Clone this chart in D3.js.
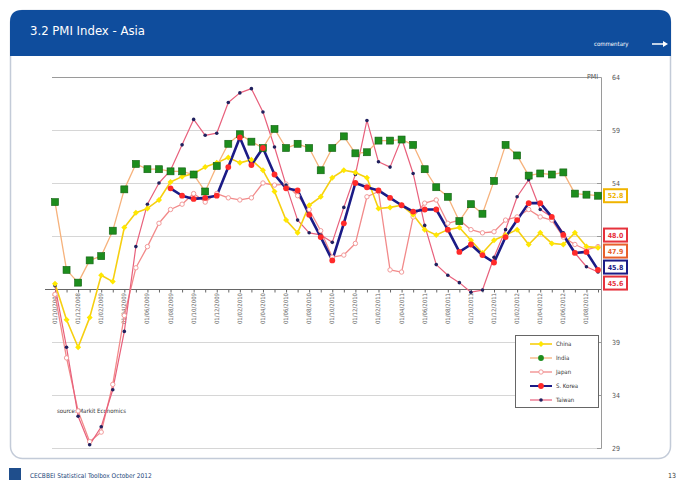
<!DOCTYPE html>
<html><head><meta charset="utf-8">
<script src="https://cdn.jsdelivr.net/npm/d3@7"></script>
<style>
html,body{margin:0;padding:0;background:#fff;}
svg{display:block;font-family:"Liberation Sans Narrow","DejaVu Sans Condensed","Liberation Sans",sans-serif;}
</style></head><body>
<svg id="c" width="678" height="481"></svg>
<script>
const months = ["01/10/2008","01/11/2008","01/12/2008","01/01/2009","01/02/2009","01/03/2009","01/04/2009","01/05/2009","01/06/2009","01/07/2009","01/08/2009","01/09/2009","01/10/2009","01/11/2009","01/12/2009","01/01/2010","01/02/2010","01/03/2010","01/04/2010","01/05/2010","01/06/2010","01/07/2010","01/08/2010","01/09/2010","01/10/2010","01/11/2010","01/12/2010","01/01/2011","01/02/2011","01/03/2011","01/04/2011","01/05/2011","01/06/2011","01/07/2011","01/08/2011","01/09/2011","01/10/2011","01/11/2011","01/12/2011","01/01/2012","01/02/2012","01/03/2012","01/04/2012","01/05/2012","01/06/2012","01/07/2012","01/08/2012","01/09/2012"];
const seriesNames = ["China","India","Japan","S. Korea","Taiwan"];
const china = [44.5,41.1,38.5,41.3,45.3,44.7,49.8,51.2,51.6,52.4,54.1,54.6,54.9,55.5,55.9,56.4,55.9,56.2,55.2,53.2,50.5,49.3,51.9,52.7,54.5,55.2,55.0,54.5,51.6,51.7,51.9,51.0,49.6,49.1,49.6,49.8,48.6,47.4,48.6,49.1,49.6,48.2,49.3,48.3,48.2,49.3,48.0,47.9];
const india = [52.2,45.8,44.6,46.7,47.1,49.5,53.4,55.8,55.3,55.3,55.1,55.1,54.8,53.2,55.6,57.7,58.6,57.9,57.3,59.1,57.3,57.7,57.3,55.2,57.3,58.4,56.8,56.9,58.0,58.0,58.1,57.6,55.3,53.6,52.7,50.4,52.0,51.1,54.2,57.6,56.6,54.7,54.9,54.8,55.0,53.0,52.9,52.8];
const japan = [43.5,37.5,32.5,29.6,30.5,35.0,41.5,46.0,48.0,50.2,51.5,52.0,53.0,52.2,53.0,52.6,52.4,52.6,54.0,53.8,53.9,52.8,51.5,49.5,47.0,47.2,48.3,52.7,53.2,45.8,45.6,50.8,52.1,52.4,50.2,50.5,49.6,49.3,49.4,50.5,50.8,51.5,50.8,50.5,48.9,48.2,47.7,48.0];
const korea = [null,null,null,null,null,null,null,null,null,null,53.5,52.8,52.5,52.6,52.8,55.5,58.3,55.7,57.3,54.8,53.5,53.3,51.0,48.9,46.7,50.2,54.0,53.6,53.3,52.6,51.9,51.3,51.5,51.5,49.6,47.5,48.2,47.2,46.5,48.9,50.5,52.1,52.1,50.8,49.1,47.4,47.5,45.8];
const taiwan = [44.3,38.5,32.0,29.3,31.0,34.5,40.0,48.0,52.0,54.0,55.2,57.6,60.0,58.5,58.7,61.6,62.5,62.9,60.7,57.4,53.8,50.5,49.3,49.1,48.4,51.7,54.8,59.9,56.0,55.5,58.2,54.9,50.0,46.3,45.3,44.6,43.7,43.9,47.0,49.6,52.7,54.3,51.5,50.8,49.3,47.4,46.1,45.6];
const yTicks = [29,34,39,44,49,54,59,64];
const axisCross = 44;

const svg = d3.select("#c");
// ---- slide frame ----
svg.append("rect").attr("x",10.5).attr("y",10.5).attr("width",660).attr("height",448).attr("rx",12)
  .attr("fill","#fff").attr("stroke","#c3cbd8").attr("stroke-width",1.5);
svg.append("path").attr("d","M10,56 L10,22 Q10,10 22,10 L659,10 Q671,10 671,22 L671,56 Z").attr("fill","#0f4d9d");
svg.append("text").attr("x",30).attr("y",35).attr("fill","#fff").attr("font-size",13).text("3.2 PMI Index - Asia");
svg.append("text").attr("x",594).attr("y",46).attr("fill","#fff").attr("font-size",6).text("commentary");
svg.append("line").attr("x1",652).attr("x2",664).attr("y1",44).attr("y2",44).attr("stroke","#fff").attr("stroke-width",1.5);
svg.append("path").attr("d","M663,41 L668,44 L663,47 Z").attr("fill","#fff");
// footer
svg.append("rect").attr("x",9).attr("y",468).attr("width",12).attr("height",12).attr("fill","#1f4e8c");
svg.append("text").attr("x",30).attr("y",478).attr("fill","#24477a").attr("font-size",6.5).text("CECBBEI Statistical Toolbox October 2012");
svg.append("text").attr("x",668).attr("y",478).attr("fill","#333").attr("font-size",7).text("13");

// ---- scales ----
const x = d3.scalePoint().domain(months).range([55,598]);
const y = d3.scaleLinear().domain([29,64]).range([448,77]);
const axisX = 601;

// ---- series styles ----
const styles = {
  "China":   {data:china, line:"#f6cf10", w:1.6, m:"diamond", mf:"#ffe800", ms:null, box:"#e8602c"},
  "India":   {data:india, line:"#f6b27c", w:1.3, m:"square", mf:"#1d8d1d", ms:"#0f600f", box:"#f0b400"},
  "Japan":   {data:japan, line:"#f28a8a", w:1.3, m:"hollow", mf:"#fff", ms:"#f29a9a", box:"#e6323c"},
  "S. Korea":{data:korea, line:"#1b1b86", w:2.6, m:"circle", mf:"#ff2a2a", ms:null, box:"#1b1b86"},
  "Taiwan":  {data:taiwan, line:"#e8607c", w:1.2, m:"dot", mf:"#20205e", ms:null, box:"#e6323c"}
};

// ---- end value label positions (dodged) ----
const gap = 16;
let ends = seriesNames.map(n=>{const d=styles[n].data; const v=d[d.length-1]; return {n, v, y:y(v)};}).sort((a,b)=>a.y-b.y);
let groups = ends.map(d=>({items:[d], top:d.y}));
let merged = true;
while(merged){
  merged=false;
  for(let i=1;i<groups.length;i++){
    const a=groups[i-1], b=groups[i];
    if(a.top + a.items.length*gap > b.top){
      const items=a.items.concat(b.items);
      const mean=d3.mean(items,d=>d.y);
      groups.splice(i-1,2,{items, top:mean-(items.length-1)*gap/2});
      merged=true; break;
    }
  }
}
const boxes = [];
groups.forEach(g=>g.items.forEach((d,k)=>boxes.push({n:d.n, v:d.v, cy:g.top + k*gap})));

// gridlines
svg.append("g").selectAll("line").data(yTicks.filter(t=>t!==axisCross)).join("line")
  .attr("x1",52).attr("x2",axisX).attr("y1",d=>Math.round(y(d))+0.5).attr("y2",d=>Math.round(y(d))+0.5)
  .attr("stroke",d=>d===64?"#9a9a9a":"#d6d6d6").attr("stroke-width",1);

// right axis
const ra = svg.append("g").attr("transform",`translate(${axisX},0)`)
  .call(d3.axisLeft(y).tickValues(yTicks).tickSize(4).tickFormat(""));
ra.select(".domain").attr("stroke","#9a9a9a");
ra.selectAll(".tick line").attr("stroke","#9a9a9a");
// tick labels that are not hidden behind the end-value boxes (as in the reference)
svg.append("g").selectAll("text").data(yTicks.filter(t=>!boxes.some(b=>Math.abs(b.cy-y(t))<11))).join("text")
  .attr("x",612).attr("y",d=>y(d)+2.5).attr("font-size",7).attr("fill","#555").text(d=>d);
svg.append("text").attr("x",598).attr("y",79).attr("text-anchor","end").attr("font-size",7).attr("fill","#555").text("PMI");

// x axis at crossing value
const xa = svg.append("g").attr("transform",`translate(0,${Math.round(y(axisCross))+0.5})`)
  .call(d3.axisBottom(x).tickSize(3).tickFormat(""));
xa.select(".domain").attr("d",`M45,0H${axisX}`).attr("stroke","#666");
xa.selectAll(".tick line").attr("stroke","#666");
svg.append("g").selectAll("text").data(months.filter((m,i)=>i%2===0)).join("text")
  .attr("transform",d=>`translate(${x(d)+2},${y(axisCross)+4}) rotate(-90)`)
  .attr("text-anchor","end").attr("font-size",6).attr("fill","#666").text(d=>d);

// source
svg.append("text").attr("x",57).attr("y",413).attr("font-size",6).attr("fill","#333").text("source: Markit Economics");

// ---- series ----
const lineGen = d3.line().defined(d=>d!=null).x((d,i)=>x(months[i])).y(d=>y(d));
const drawOrder = ["Japan","Taiwan","China","India","S. Korea"];
const gl = svg.append("g");
drawOrder.forEach(n=>{
  const s = styles[n];
  gl.append("path").datum(s.data).attr("d",lineGen).attr("fill","none")
    .attr("stroke",s.line).attr("stroke-width",s.w).attr("stroke-linejoin","round");
});
function drawMarker(g, s, cx, cy){
  if(s.m==="square") g.append("rect").attr("x",cx-3.5).attr("y",cy-3.5).attr("width",7).attr("height",7).attr("fill",s.mf).attr("stroke",s.ms).attr("stroke-width",0.6);
  else if(s.m==="diamond") g.append("path").attr("d",`M${cx},${cy-3}L${cx+3},${cy}L${cx},${cy+3}L${cx-3},${cy}Z`).attr("fill",s.mf);
  else if(s.m==="hollow") g.append("circle").attr("cx",cx).attr("cy",cy).attr("r",2.2).attr("fill",s.mf).attr("stroke",s.ms).attr("stroke-width",1);
  else if(s.m==="circle") g.append("circle").attr("cx",cx).attr("cy",cy).attr("r",2.9).attr("fill",s.mf);
  else g.append("circle").attr("cx",cx).attr("cy",cy).attr("r",1.8).attr("fill",s.mf);
}
const gm = svg.append("g");
drawOrder.forEach(n=>{
  const s = styles[n];
  s.data.forEach((v,i)=>{ if(v!=null) drawMarker(gm, s, x(months[i]), y(v)); });
});

// ---- end value boxes ----
const gb = svg.append("g");
boxes.forEach(b=>{
  const s = styles[b.n];
  gb.append("rect").attr("x",604).attr("y",b.cy-6.5).attr("width",23).attr("height",13)
    .attr("fill","#fff").attr("stroke",s.box).attr("stroke-width",2);
  gb.append("text").attr("x",615.5).attr("y",b.cy+2.5).attr("text-anchor","middle").attr("font-size",7)
    .attr("font-weight","bold").attr("fill",s.box).text(d3.format(".1f")(b.v));
});

// ---- legend ----
const lg = svg.append("g");
lg.append("rect").attr("x",515.5).attr("y",335.5).attr("width",83).attr("height",72).attr("fill","#fff").attr("stroke","#666");
seriesNames.forEach((n,i)=>{
  const s = styles[n], ly = 344 + i*14;
  lg.append("line").attr("x1",530).attr("x2",552).attr("y1",ly).attr("y2",ly).attr("stroke",s.line).attr("stroke-width",Math.min(s.w,2));
  drawMarker(lg, Object.assign({},s,{m: s.m==="square"?"circle":s.m}), 541, ly);
  lg.append("text").attr("x",556).attr("y",ly+2).attr("font-size",6).attr("fill","#333").text(n);
});
</script></body></html>
